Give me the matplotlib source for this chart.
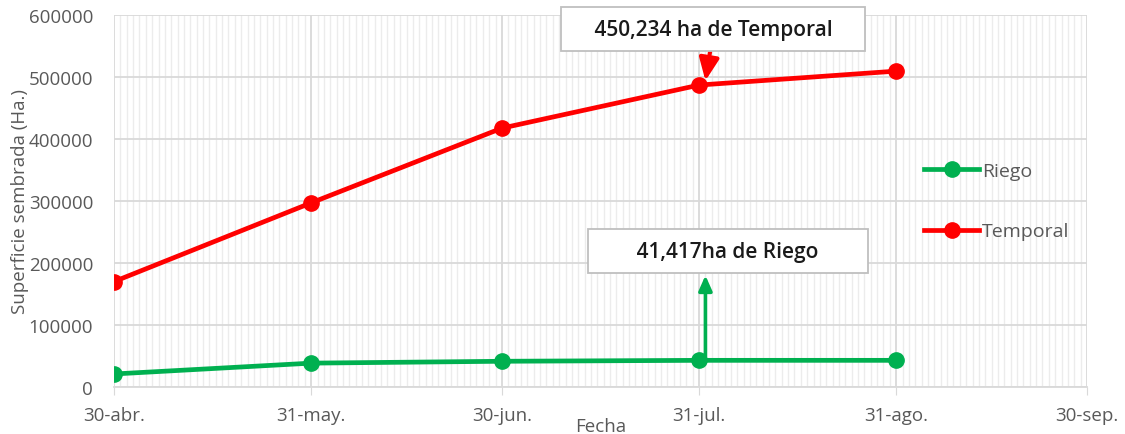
import matplotlib
matplotlib.use("Agg")
import matplotlib.pyplot as plt
import matplotlib.dates as mdates
from matplotlib.ticker import MultipleLocator, FuncFormatter
from datetime import date, datetime, timedelta

# datos
fechas = [date(2020, 4, 30), date(2020, 5, 31), date(2020, 6, 30),
          date(2020, 7, 31), date(2020, 8, 31)]
riego = [21000, 38500, 41500, 43000, 43000]
temporal = [170000, 297000, 417500, 487000, 509500]
ticks_x = [date(2020, 4, 30), date(2020, 5, 31), date(2020, 6, 30),
           date(2020, 7, 31), date(2020, 8, 31), date(2020, 9, 30)]
etiquetas_x = ["30-abr.", "31-may.", "30-jun.", "31-jul.", "31-ago.", "30-sep."]
texto_temporal = "450,234 ha de Temporal"
texto_riego = "41,417ha de Riego"

plt.rcParams['font.family'] = ['Open Sans', 'DejaVu Sans']
gris = "#595959"

fig = plt.figure(figsize=(11.25, 4.35), dpi=100)
ax = fig.add_axes([114 / 1125, 1 - 388 / 435, (1087 - 114) / 1125, (388 - 16) / 435])

ax.plot(fechas, riego, color="#00B050", lw=3.4, marker="o", ms=11, label="Riego", zorder=3)
ax.plot(fechas, temporal, color="#FF0000", lw=3.4, marker="o", ms=11, label="Temporal", zorder=3)

ax.set_xlim(ticks_x[0], ticks_x[-1])
ax.set_ylim(0, 600000)
ax.set_xticks(ticks_x)
ax.set_xticklabels(etiquetas_x)
ax.xaxis.set_minor_locator(mdates.DayLocator())
ax.yaxis.set_major_locator(MultipleLocator(100000))
ax.yaxis.set_major_formatter(FuncFormatter(lambda v, p: "%d" % v))

ax.grid(which="major", color="#d9d9d9", lw=1.3, zorder=0)
ax.grid(which="minor", axis="x", color="#ececec", lw=1.0, zorder=0)
ax.set_axisbelow(True)
for s in ["top", "right", "left"]:
    ax.spines[s].set_visible(False)
ax.spines["bottom"].set_color("#d9d9d9")
ax.spines["bottom"].set_linewidth(1.3)
ax.tick_params(axis="x", which="major", length=6, color="#d9d9d9", labelsize=13.5, labelcolor=gris, pad=8)
ax.tick_params(axis="x", which="minor", length=0)
ax.tick_params(axis="y", length=0, labelsize=13.5, labelcolor=gris, pad=15)

ax.set_xlabel("Fecha", fontsize=13.5, color=gris, labelpad=-5)
ax.set_ylabel("Superficie sembrada (Ha.)", fontsize=13.5, color=gris, labelpad=0)

caja = dict(boxstyle="square,pad=0.55", fc="white", ec="#bfbfbf", lw=1.3)
x_flecha = fechas[3] + timedelta(days=1.5)
ax.annotate("    " + texto_temporal + "    ", xy=(x_flecha, temporal[3] + 7000),
            xytext=(datetime(2020, 8, 2, 6), 577000), ha="center", va="center",
            fontsize=15, fontweight="semibold", color="#1a1a1a", bbox=caja,
            arrowprops=dict(arrowstyle="-|>,head_length=0.9,head_width=0.4", color="#FF0000", lw=3,
                            shrinkA=0, shrinkB=0, relpos=(0.495, 0)), zorder=5)
ax.annotate("       " + texto_riego + "       ", xy=(x_flecha, 183000),
            xytext=(datetime(2020, 8, 4, 12), 219000), ha="center", va="center",
            fontsize=15, fontweight="semibold", color="#1a1a1a", bbox=caja, zorder=5)
ax.annotate("", xy=(x_flecha, 180000), xytext=(x_flecha, riego[3]),
            arrowprops=dict(arrowstyle="-|>,head_length=0.9,head_width=0.4", color="#00B050", lw=2.6,
                            shrinkA=0, shrinkB=0), zorder=4)

leg = ax.legend(loc="center left", bbox_to_anchor=(0.815, 0.5), frameon=False,
                fontsize=14, labelspacing=2.2, handlelength=2.8, handletextpad=0.15)
for t in leg.get_texts():
    t.set_color(gris)

fig.savefig("out.png", dpi=100)
